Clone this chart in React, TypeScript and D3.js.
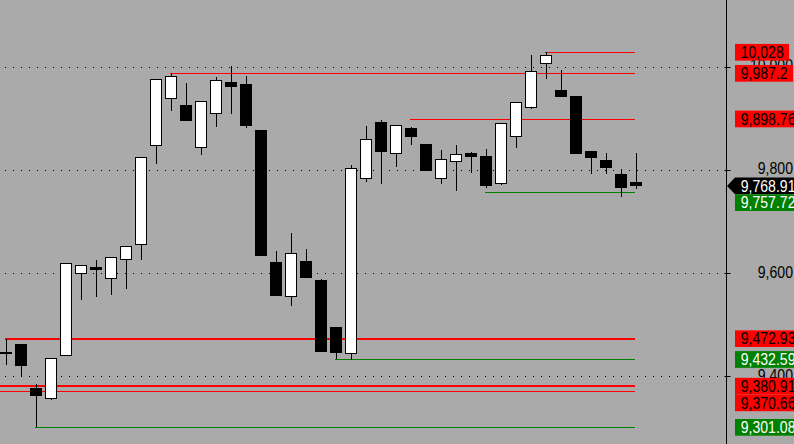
import React from "react";
import * as d3 from "d3";

const W = 794;
const H = 444;

// OHLC per bar (index 0..42)
const opens = [9447.5, 9462.6, 9377.4, 9356.6, 9440, 9597.7, 9611.9, 9589.2, 9626, 9653.9, 9845.8, 9938, 9925.8, 9843.1, 9909, 9970.4, 9966.5, 9877.4, 9621.5, 9553.1, 9623.5, 9586.7, 9495.6, 9443.8, 9783, 9892.9, 9831.4, 9881.2, 9850.2, 9783, 9815.9, 9832.2, 9827, 9772.1, 9863.2, 9919.4, 10004.7, 9954.9, 9942.7, 9836.7, 9819.2, 9792.1, 9776.6];
const highs = [9472.93, 9463, 9385.1, 9436, 9620, 9615.5, 9625.4, 9631, 9653, 9825, 9977, 9987.2, 9969, 9934, 9980.1, 10001.4, 9982, 9878, 9642.9, 9677.7, 9646.7, 9589.2, 9496, 9809.5, 9885.1, 9896.7, 9887, 9883.8, 9851, 9838.6, 9848.3, 9835.3, 9840.5, 9891, 9932, 10022.7, 10028, 9993.6, 9943, 9837, 9832.8, 9801.8, 9832.8];
const lows = [9422, 9399.3, 9301.08, 9355, 9439, 9547.9, 9554.3, 9558.2, 9569.2, 9625.4, 9812.1, 9914.8, 9895, 9829.5, 9883.8, 9909, 9881.8, 9633, 9555, 9536.9, 9590, 9447, 9432.59, 9431, 9776.6, 9773.3, 9806.2, 9848.9, 9798, 9773.3, 9759.7, 9794.6, 9765.5, 9771, 9843.1, 9918, 9975.6, 9941, 9831, 9792.7, 9792.7, 9747.5, 9763.6];
const closes = [9447, 9420.6, 9362.4, 9435.5, 9619.6, 9615.1, 9606.6, 9630.7, 9652.6, 9824.5, 9976.2, 9982, 9895.4, 9933.6, 9974.3, 9961.3, 9885.1, 9633.8, 9555.7, 9638.4, 9591.1, 9447.7, 9445.8, 9803.1, 9859.3, 9835.3, 9886.5, 9863.2, 9798.5, 9820.6, 9830.3, 9825.6, 9769.4, 9890.3, 9931, 9991.1, 10022.1, 9941.9, 9831.4, 9823.7, 9804.3, 9765.5, 9768.91];

const axisTicks = [9400, 9600, 9800, 10000];

// horizontal levels
const levelValues = [10028, 9987.2, 9898.76, 9757.72, 9472.93, 9432.59, 9380.91, 9370.66, 9301.08];
const levelKinds = ["red", "red", "red", "green", "red", "green", "red", "red", "green"];
const levelStartBar = [36, 11, 27, 32, 0, 22, -1, -1, 2];
const levelWeights = [1, 1, 1, 1, 2, 1, 2, 1, 1];

const lastPrice = 9768.91;

const RED = "#ff0000";
const GREEN = "#008000";
const BG = "#aaaaaa";
const FONT = "'Liberation Sans', Arial, sans-serif";
const FS = 16;
const SX = 0.88;

const fmt = d3.format(",");

function textWidth(s: string) {
  let w = 0;
  for (const ch of s) {
    if (ch === "," || ch === ".") w += 0.278;
    else w += 0.556;
  }
  return w * FS * SX;
}

export default function App() {
  const y = d3.scaleLinear().domain([9268.8, 10129.3]).range([H, 0]);
  const x = d3.scaleLinear().domain([0, 42]).range([6, 636]);
  const axisX = 726.5;
  const lineEnd = x(42) - 1;

  const bars = opens.map((o, i) => ({ o, h: highs[i], l: lows[i], c: closes[i], i }));

  // labels with collision push-down
  type Lab = { v: number; bg: string; fg: string; last?: boolean };
  const labs: Lab[] = levelValues.map((v, i) => ({
    v,
    bg: levelKinds[i] === "red" ? RED : GREEN,
    fg: levelKinds[i] === "red" ? "#000" : "#fff",
  }));
  labs.push({ v: lastPrice, bg: "#000", fg: "#fff", last: true });
  labs.sort((a, b) => b.v - a.v);
  const LH = 16.7;
  let prevBottom = -Infinity;
  const placed = labs.map((lb) => {
    let top = y(lb.v) - LH / 2;
    if (top < prevBottom) top = prevBottom;
    prevBottom = top + LH;
    return { ...lb, top };
  });

  return (
    <svg
      width={W}
      height={H}
      style={{ position: "absolute", left: 0, top: 0, display: "block" }}
      fontFamily={FONT}
    >
      <rect x={0} y={0} width={W} height={H} fill={BG} />

      {/* grid */}
      {axisTicks.map((t) => {
        const yy = Math.round(y(t)) + 0.5;
        return (
          <line key={"g" + t} x1={5} x2={axisX} y1={yy} y2={yy} stroke="#000" strokeWidth={1} strokeDasharray="1 7" />
        );
      })}

      {/* levels */}
      {levelValues.map((v, i) => {
        const w = levelWeights[i];
        const yy = Math.round(y(v)) + (w === 1 ? 0.5 : 0);
        return (
          <line
            key={"l" + i}
            x1={x(levelStartBar[i]) - 1}
            x2={lineEnd}
            y1={yy}
            y2={yy}
            stroke={levelKinds[i] === "red" ? RED : GREEN}
            strokeWidth={w}
          />
        );
      })}

      {/* candles */}
      {bars.map((b) => {
        const cx = x(b.i);
        const top = Math.round(y(Math.max(b.o, b.c)));
        let bot = Math.round(y(Math.min(b.o, b.c)));
        if (bot - top < 2) bot = top + 2;
        const up = b.c > b.o;
        return (
          <g key={"c" + b.i}>
            <line x1={cx + 0.5} x2={cx + 0.5} y1={Math.round(y(b.h))} y2={Math.round(y(b.l))} stroke="#000" strokeWidth={1} />
            <rect
              x={cx - 5.5}
              y={top + 0.5}
              width={11}
              height={bot - top - 1}
              fill={up ? "#fff" : "#000"}
              stroke="#000"
              strokeWidth={1}
            />
          </g>
        );
      })}

      {/* axis */}
      <line x1={axisX} x2={axisX} y1={0} y2={H} stroke="#000" strokeWidth={1} />
      {axisTicks.map((t) => {
        const yy = Math.round(y(t)) + 0.5;
        return (
          <g key={"t" + t}>
            <line x1={axisX - 2} x2={axisX + 4} y1={yy} y2={yy} stroke="#000" strokeWidth={1} />
            <text
              transform={`translate(793,${y(t) + 4.5}) scale(${SX},1)`}
              textAnchor="end"
              fontSize={FS}
              fill="#000"
            >
              {fmt(t)}
            </text>
          </g>
        );
      })}

      {/* price labels */}
      {placed.map((p, k) => {
        const s = fmt(p.v);
        const bx = 735;
        const bw = textWidth(s) + 11;
        const cy = p.top + LH / 2;
        return (
          <g key={"p" + k}>
            {p.last ? (
              <path
                d={`M${axisX + 0.5},${cy} L${bx},${p.top} L${bx + bw},${p.top} L${bx + bw},${p.top + LH} L${bx},${p.top + LH} Z`}
                fill={p.bg}
              />
            ) : (
              <rect x={bx} y={p.top} width={bw} height={LH} fill={p.bg} />
            )}
            <text
              transform={`translate(${bx + 5.7},${cy + 5.8}) scale(${SX},1)`}
              fontSize={FS}
              fill={p.fg}
            >
              {s}
            </text>
          </g>
        );
      })}
    </svg>
  );
}
